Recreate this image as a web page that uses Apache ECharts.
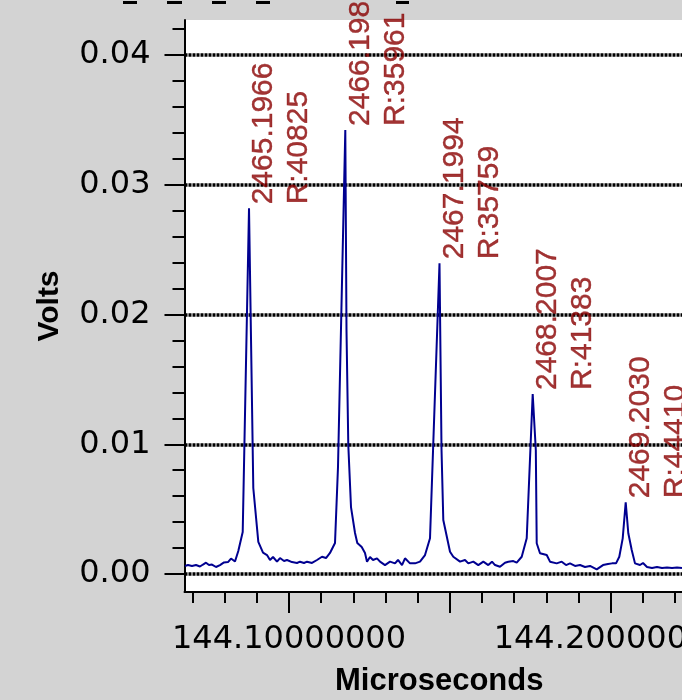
<!DOCTYPE html>
<html>
<head>
<meta charset="utf-8">
<script src="https://cdn.jsdelivr.net/npm/echarts@6/dist/echarts.min.js"></script>
<style>
  html, body { margin: 0; padding: 0; background: #d3d3d3; }
  #chart { width: 682px; height: 700px; }
</style>
</head>
<body>
<div id="chart"></div>
<script>
// Time-of-flight trace: detector voltage vs. flight time (µs)
const times = [
  144.06767, 144.06860, 144.06985, 144.07109, 144.07233, 144.07327, 144.07420, 144.07513,
  144.07606, 144.07731, 144.07855, 144.07979, 144.08104, 144.08197, 144.08259, 144.08321,
  144.08424, 144.08561, 144.08757, 144.08890, 144.09046, 144.09192, 144.09316, 144.09409,
  144.09503, 144.09627, 144.09720, 144.09845, 144.09938, 144.10093, 144.10249, 144.10342,
  144.10466, 144.10560, 144.10715, 144.10870, 144.11026, 144.11150, 144.11274, 144.11430,
  144.11523, 144.11750, 144.11787, 144.11843, 144.11927, 144.12052, 144.12123, 144.12260,
  144.12362, 144.12425, 144.12518, 144.12611, 144.12735, 144.12829, 144.12984, 144.13140,
  144.13295, 144.13388, 144.13513, 144.13606, 144.13761, 144.13917, 144.14072, 144.14228,
  144.14383, 144.14678, 144.14741, 144.14796, 144.15005, 144.15107, 144.15316, 144.15471,
  144.15574, 144.15729, 144.15884, 144.16040, 144.16195, 144.16310, 144.16404, 144.16559,
  144.16714, 144.16817, 144.16972, 144.17078, 144.17234, 144.17389, 144.17575, 144.17672,
  144.17700, 144.17802, 144.18011, 144.18113, 144.18321, 144.18477, 144.18611, 144.18735,
  144.18890, 144.19046, 144.19201, 144.19357, 144.19565, 144.19761, 144.19916, 144.20040,
  144.20165, 144.20267, 144.20373, 144.20466, 144.20547, 144.20653, 144.20755, 144.20911,
  144.21004, 144.21128, 144.21284, 144.21439, 144.21595, 144.21750, 144.21906, 144.22061,
  144.22216
];
const volts = [
  0.00062, 0.00069, 0.00062, 0.00069, 0.00058, 0.00073, 0.00087, 0.00069,
  0.00073, 0.00054, 0.00069, 0.00089, 0.00092, 0.00119, 0.00123, 0.00096,
  0.00177, 0.00324, 0.02818, 0.00663, 0.00247, 0.00164, 0.00146, 0.00108,
  0.00131, 0.00095, 0.00123, 0.00100, 0.00108, 0.00092, 0.00085, 0.00095,
  0.00085, 0.00095, 0.00085, 0.00108, 0.00133, 0.00123, 0.00162, 0.00239,
  0.00825, 0.03422, 0.01880, 0.00994, 0.00516, 0.00316, 0.00239, 0.00208,
  0.00162, 0.00095, 0.00131, 0.00108, 0.00121, 0.00095, 0.00069, 0.00095,
  0.00082, 0.00108, 0.00069, 0.00121, 0.00082, 0.00082, 0.00095, 0.00146,
  0.00275, 0.02395, 0.00956, 0.00416, 0.00172, 0.00133, 0.00095, 0.00108,
  0.00082, 0.00095, 0.00069, 0.00095, 0.00069, 0.00095, 0.00069, 0.00056,
  0.00087, 0.00095, 0.00100, 0.00087, 0.00133, 0.00275, 0.01387, 0.00956,
  0.00237, 0.00160, 0.00146, 0.00095, 0.00082, 0.00095, 0.00069, 0.00082,
  0.00062, 0.00069, 0.00054, 0.00062, 0.00036, 0.00069, 0.00077, 0.00082,
  0.00082, 0.00133, 0.00275, 0.00553, 0.00314, 0.00185, 0.00082, 0.00069,
  0.00085, 0.00054, 0.00046, 0.00054, 0.00046, 0.00050, 0.00046, 0.00050,
  0.00046
];

// Annotated isotope peaks: apex time, mass and resolving power
const peakTimes = [144.08757, 144.11750, 144.14678, 144.17575, 144.20466];
const peakMasses = ['2465.1966', '2466.1980', '2467.1994', '2468.2007', '2469.2030'];
const peakResolutions = ['R:40825', 'R:35961', 'R:35759', 'R:41383', 'R:44410'];

// Axis ranges and tick positions
const xRange = [144.067516, 144.22216];
const yRange = [-0.001387, 0.042697];
const xMajorTicks = [144.10, 144.15, 144.20];
const xLabelTicks = [144.10, 144.20];
const xMinorTicks = [144.07, 144.08, 144.09, 144.10, 144.11, 144.12, 144.13, 144.14,
                     144.15, 144.16, 144.17, 144.18, 144.19, 144.20, 144.21, 144.22];
const yMajorTicks = [0, 0.01, 0.02, 0.03, 0.04];
const yMinorTicks = [0, 0.002, 0.004, 0.006, 0.008, 0.01, 0.012, 0.014, 0.016, 0.018, 0.02,
                     0.022, 0.024, 0.026, 0.028, 0.03, 0.032, 0.034, 0.036, 0.038, 0.04, 0.042];

const FONT = 'Liberation Sans';
const TICK_FONT = 'DejaVu Sans';
const LABEL_RED = '#8a0000';
const trace = times.map((t, i) => [t, volts[i]]);
const peaks = peakTimes.map((t, i) => {
  const idx = times.indexOf(t);
  return { value: [t, volts[idx]], mass: peakMasses[i], res: peakResolutions[i] };
});

const chart = echarts.init(document.getElementById('chart'), null, { renderer: 'canvas' });

const baseX = {
  type: 'value', position: 'bottom', min: xRange[0], max: xRange[1],
  splitLine: { show: false }
};
const baseY = {
  type: 'value', position: 'left', min: yRange[0], max: yRange[1],
  splitLine: { show: false }
};

chart.setOption({
  backgroundColor: '#d3d3d3',
  animation: false,
  grid: {
    left: 184.5, right: 0, top: 20, bottom: 108,
    containLabel: false, outerBoundsMode: 'none',
    show: true, backgroundColor: '#ffffff', borderWidth: 0
  },
  xAxis: [
    Object.assign({}, baseX, {
      name: 'Microseconds', nameLocation: 'middle', nameGap: 74,
      nameTextStyle: { fontFamily: FONT, fontSize: 31, fontWeight: 'bold', color: '#000', padding: [0, 0, 0, 12] },
      axisLine: { show: true, onZero: false, lineStyle: { color: '#000', width: 2 } },
      axisTick: { show: true, length: 21, lineStyle: { color: '#000', width: 2 }, customValues: xMajorTicks },
      axisLabel: {
        show: true, margin: 32, customValues: xLabelTicks,
        fontFamily: TICK_FONT, fontSize: 32, color: '#000',
        formatter: v => v.toFixed(8)
      }
    }),
    Object.assign({}, baseX, {
      axisLine: { show: false, onZero: false },
      axisTick: { show: true, length: 11, lineStyle: { color: '#000', width: 2 }, customValues: xMinorTicks },
      axisLabel: { show: false }
    })
  ],
  yAxis: [
    Object.assign({}, baseY, {
      name: 'Volts', nameLocation: 'middle', nameGap: 120,
      nameTextStyle: { fontFamily: FONT, fontSize: 30, fontWeight: 'bold', color: '#000' },
      axisLine: { show: true, onZero: false, lineStyle: { color: '#000', width: 2 } },
      axisTick: { show: true, length: 20, lineStyle: { color: '#000', width: 2 }, customValues: yMajorTicks },
      axisLabel: {
        show: true, margin: 34, customValues: yMajorTicks,
        fontFamily: TICK_FONT, fontSize: 32, color: '#000',
        formatter: v => v.toFixed(2)
      },
      splitLine: { show: true, lineStyle: { color: '#000', width: 3.5, type: [3, 1] } }
    }),
    Object.assign({}, baseY, {
      axisLine: { show: false, onZero: false },
      axisTick: { show: true, length: 12, lineStyle: { color: '#000', width: 2 }, customValues: yMinorTicks },
      axisLabel: { show: false }
    })
  ],
  series: [
    {
      type: 'line',
      data: trace,
      xAxisIndex: 0, yAxisIndex: 0,
      showSymbol: false, symbol: 'none',
      lineStyle: { color: '#000090', width: 2 },
      z: 3
    },
    {
      type: 'scatter',
      data: peaks,
      xAxisIndex: 0, yAxisIndex: 0,
      symbolSize: 2,
      itemStyle: { color: 'rgba(0,0,0,0)' },
      silent: true,
      z: 4,
      label: {
        show: true,
        position: [-1.5, -3],
        rotate: 90,
        align: 'left',
        verticalAlign: 'top',
        fontFamily: FONT,
        fontSize: 30,
        lineHeight: 35,
        color: LABEL_RED,
        textBorderColor: LABEL_RED,
        textBorderWidth: 0.4,
        formatter: p => p.data.mass + '\n' + p.data.res
      }
    }
  ],
  graphic: [
    { type: 'rect', shape: { x: 123, y: 1, width: 14, height: 3 }, style: { fill: '#000' } },
    { type: 'rect', shape: { x: 167, y: 1, width: 15, height: 3 }, style: { fill: '#000' } },
    { type: 'rect', shape: { x: 212, y: 1, width: 14, height: 3 }, style: { fill: '#000' } },
    { type: 'rect', shape: { x: 256, y: 1, width: 14, height: 3 }, style: { fill: '#000' } },
    { type: 'rect', shape: { x: 396, y: 1, width: 13, height: 3 }, style: { fill: '#000' } }
  ]
});
</script>
</body>
</html>
